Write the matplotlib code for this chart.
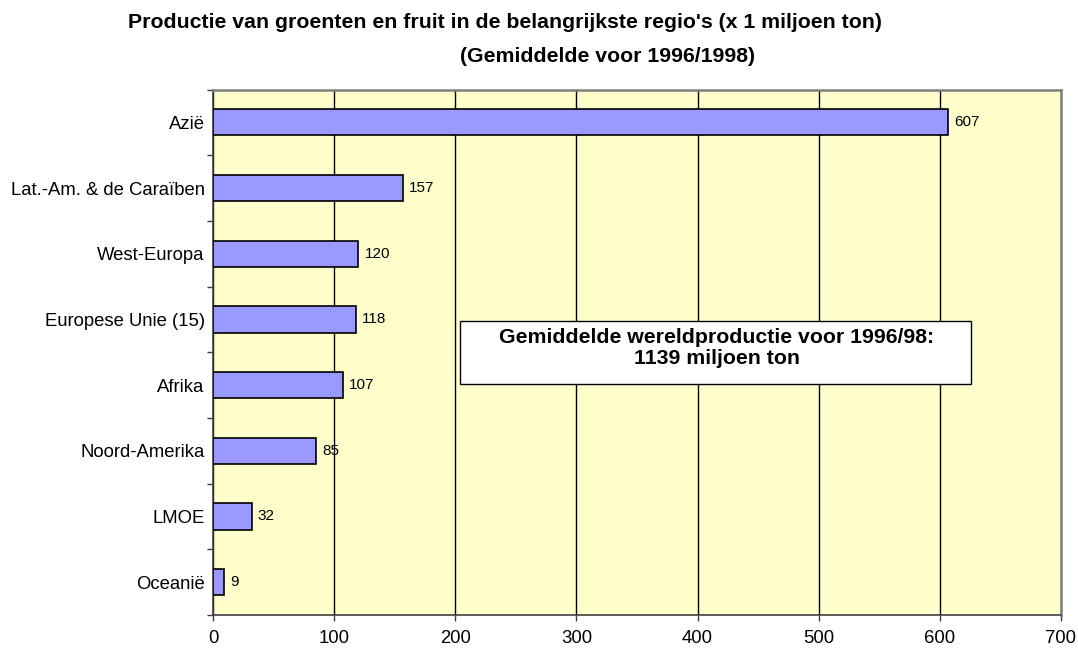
import numpy as np
import matplotlib.pyplot as plt
from matplotlib.patches import Rectangle
from matplotlib.ticker import FixedLocator

plt.rcParams['font.family'] = ['Liberation Sans', 'DejaVu Sans']

# data, top to bottom as in the chart
regions = ['Azië', 'Lat.-Am. & de Caraïben', 'West-Europa', 'Europese Unie (15)',
           'Afrika', 'Noord-Amerika', 'LMOE', 'Oceanië']
production = [607, 157, 120, 118, 107, 85, 32, 9]
x_ticks = [0, 100, 200, 300, 400, 500, 600, 700]

title_1 = "Productie van groenten en fruit in de belangrijkste regio's (x 1 miljoen ton)"
title_2 = "(Gemiddelde voor 1996/1998)"
note_1 = "Gemiddelde wereldproductie voor 1996/98:"
note_2 = "1139 miljoen ton"

fig = plt.figure(figsize=(10.78, 6.5), dpi=100)
ax = fig.add_axes([213 / 1078, 1 - 615 / 650, 848 / 1078, 525.5 / 650])
ax.set_facecolor('#FFFFCC')

y = np.arange(len(regions))
ax.barh(y, production, height=0.4, color='#9999FF', edgecolor='black', linewidth=1.2, zorder=3)
for yi, v in zip(y, production):
    ax.text(v + 5, yi, str(v), va='center', ha='left', fontsize=11, zorder=4)

ax.set_xlim(0, 700)
ax.set_ylim(len(regions) - 0.5, -0.5)
ax.set_xticks(x_ticks)
ax.set_xticklabels([str(t) for t in x_ticks], fontsize=13.3)
ax.xaxis.grid(True, color='black', linewidth=1, zorder=1)
ax.set_axisbelow(True)

ax.set_yticks(y)
ax.set_yticklabels(regions, fontsize=13.3, va='center_baseline')
ax.tick_params(axis='y', which='major', length=0, pad=6)
ax.yaxis.set_minor_locator(FixedLocator(np.arange(-0.5, len(regions), 1.0)))
ax.tick_params(axis='y', which='minor', length=4, width=1, color='#404040')
ax.tick_params(axis='x', length=4, width=1, color='#404040', pad=7)

for s in ['top', 'right']:
    ax.spines[s].set_color('#808080')
    ax.spines[s].set_linewidth(1.8)
for s in ['left', 'bottom']:
    ax.spines[s].set_color('#404040')
    ax.spines[s].set_linewidth(1.2)

# text box with the world total
ax.add_patch(Rectangle((204, 3.03), 422, 0.95, facecolor='white', edgecolor='black',
                       linewidth=1, zorder=5))
ax.text(416, 3.27, note_1, ha='center', va='center', fontsize=15.3, fontweight='bold', zorder=6)
ax.text(416, 3.60, note_2, ha='center', va='center', fontsize=15.3, fontweight='bold', zorder=6)

fig.text(505 / 1078, 1 - 28 / 650, title_1, ha='center', va='baseline', fontsize=15.3, fontweight='bold')
fig.text(608 / 1078, 1 - 62 / 650, title_2, ha='center', va='baseline', fontsize=15.3, fontweight='bold')

fig.savefig('out.png', dpi=100)
